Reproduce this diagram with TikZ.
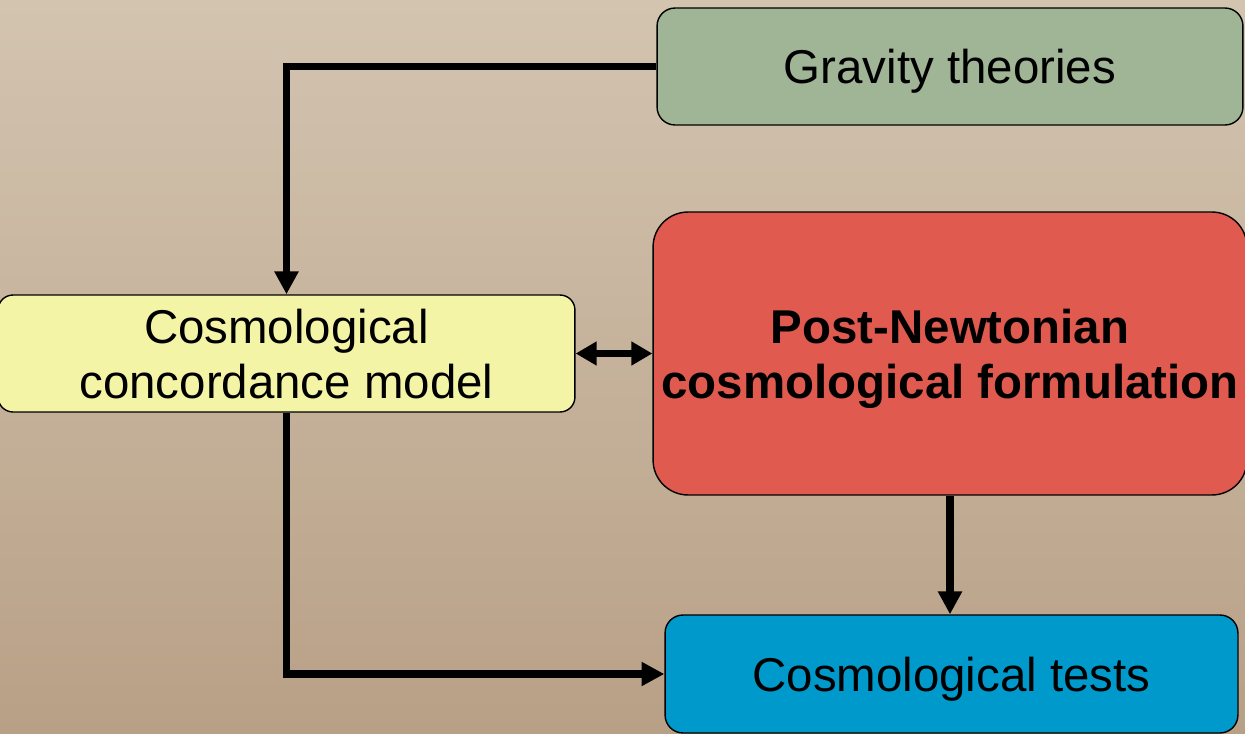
\documentclass[tikz,border=0pt]{standalone}
\usepackage{fontspec}
\setmainfont{Liberation Sans}
\usetikzlibrary{arrows.meta}
\definecolor{bgtop}{HTML}{D3C4B0}
\definecolor{bgbot}{HTML}{B8A086}
\definecolor{gravgreen}{HTML}{A0B596}
\definecolor{concyellow}{HTML}{F4F4A6}
\definecolor{pnred}{HTML}{E05A4F}
\definecolor{testblue}{HTML}{0099CC}
\tikzset{
	block/.style={draw=black,line width=0.8pt,align=center,inner sep=0pt,text depth=0pt,
		font=\fontsize{27}{31.5}\selectfont},
	link/.style={line width=4.5pt,-{Triangle[length=13pt,width=13pt]}},
	bilink/.style={line width=4pt,{Triangle[length=12pt,width=13pt]}-{Triangle[length=12pt,width=13pt]}}
}
\begin{document}
\begin{tikzpicture}[x=0.02cm,y=-0.02cm]
	\useasboundingbox (0,0) rectangle (1245,734);
	\shade[top color=bgtop,bottom color=bgbot] (0,0) rectangle (1245,734);
	\node[block,fill=gravgreen,rounded corners=0.36cm,minimum width=11.72cm,minimum height=2.34cm] (grav) at (950,66.5) {Gravity theories};
	\node[block,fill=concyellow,rounded corners=0.3cm,minimum width=11.54cm,minimum height=2.34cm] (conc) at (286.5,353.5) {Cosmological\\concordance model};
	\node[block,fill=pnred,rounded corners=0.7cm,minimum width=11.88cm,minimum height=5.66cm] (pn) at (950,353.5) {\bfseries Post-Newtonian\\\bfseries cosmological formulation};
	\node[block,fill=testblue,rounded corners=0.36cm,minimum width=11.46cm,minimum height=2.36cm] (tests) at (951.5,674) {Cosmological tests};
	\draw[link] (grav.west) -| (conc.north);
	\draw[bilink] (conc.east) -- (pn.west);
	\draw[link] (pn.south) -- (pn.south |- tests.north);
	\draw[link] (conc.south) |- (tests.west);
\end{tikzpicture}
\end{document}
